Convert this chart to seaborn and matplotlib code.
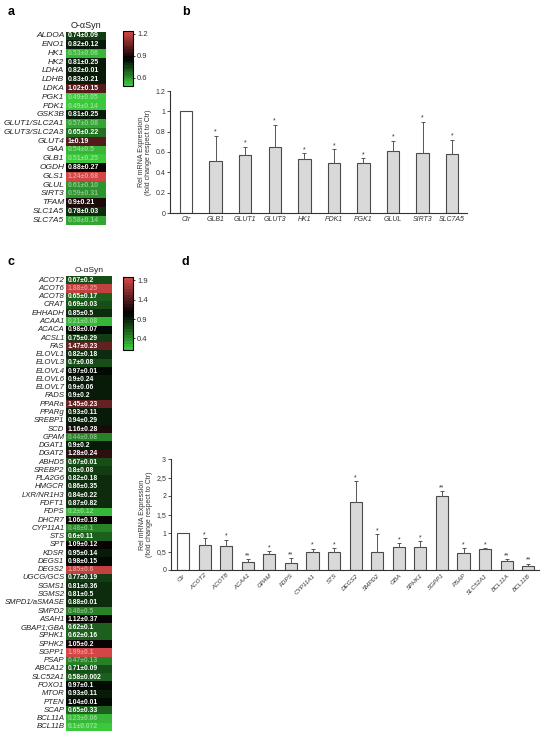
import numpy as np
import pandas as pd
import matplotlib
matplotlib.use("Agg")
import matplotlib.pyplot as plt
import seaborn as sns
from matplotlib.colors import LinearSegmentedColormap, Normalize, to_rgb

sns.set_theme(style="white")
plt.rcParams['font.family'] = ['Liberation Sans', 'DejaVu Sans']

# ---------------- data ----------------
column_label = "O-αSyn"

a_genes = ["ALDOA", "ENO1", "HK1", "HK2", "LDHA", "LDHB", "LDKA", "PGK1", "PDK1",
           "GSK3B", "GLUT1/SLC2A1", "GLUT3/SLC2A3", "GLUT4", "GAA", "GLB1", "OGDH",
           "GLS1", "GLUL", "SIRT3", "TFAM", "SLC1A5", "SLC7A5"]
a_means = [0.74, 0.82, 0.53, 0.81, 0.82, 0.83, 1.02, 0.49, 0.49, 0.81, 0.57, 0.65,
           1.0, 0.54, 0.51, 0.88, 1.24, 0.61, 0.59, 0.9, 0.78, 0.58]
a_sds = ["0.09", "0.12", "0.06", "0.25", "0.01", "0.21", "0.15", "0.05", "0.14",
         "0.25", "0.08", "0.22", "0.19", "0.5", "0.25", "0.27", "0.68", "0.10",
         "0.31", "0.21", "0.03", "0.14"]
a_cbar_ticks = [0.6, 0.9, 1.2]

c_genes = ["ACOT2", "ACOT6", "ACOT8", "CRAT", "EHHADH", "ACAA1", "ACACA", "ACSL1",
           "FAS", "ELOVL1", "ELOVL3", "ELOVL4", "ELOVL6", "ELOVL7", "FADS", "PPARa",
           "PPARg", "SREBP1", "SCD", "GPAM", "DGAT1", "DGAT2", "ABHD5", "SREBP2",
           "PLA2G6", "HMGCR", "LXR/NR1H3", "FDFT1", "FDPS", "DHCR7", "CYP11A1",
           "STS", "SPT", "KDSR", "DEGS1", "DEGS2", "UGCG/GCS", "SGMS1", "SGMS2",
           "SMPD1/aSMASE", "SMPD2", "ASAH1", "GBAP1;GBA", "SPHK1", "SPHK2", "SGPP1",
           "PSAP", "ABCA12", "SLC52A1", "FOXO1", "MTOR", "PTEN", "SCAP", "BCL11A",
           "BCL11B"]
c_means = [0.67, 1.88, 0.65, 0.69, 0.85, 0.21, 0.98, 0.75, 1.47, 0.82, 0.7, 0.97,
           0.9, 0.9, 0.9, 1.45, 0.93, 0.94, 1.16, 0.44, 0.9, 1.28, 0.67, 0.8, 0.82,
           0.86, 0.84, 0.87, 0.2, 1.06, 0.48, 0.6, 1.09, 0.95, 0.98, 1.85, 0.77,
           0.81, 0.81, 0.88, 0.48, 1.12, 0.62, 0.62, 1.05, 1.99, 0.47, 0.71, 0.58,
           0.97, 0.93, 1.04, 0.65, 0.23, 0.1]
c_sds = ["0.2", "0.25", "0.17", "0.03", "0.5", "0.08", "0.07", "0.29", "0.23",
         "0.18", "0.08", "0.01", "0.24", "0.06", "0.2", "0.23", "0.11", "0.29",
         "0.28", "0.08", "0.2", "0.24", "0.01", "0.08", "0.18", "0.35", "0.22",
         "0.82", "0.12", "0.18", "0.1", "0.11", "0.12", "0.14", "0.15", "0.6",
         "0.19", "0.36", "0.5", "0.01", "0.5", "0.37", "0.1", "0.16", "0.2", "0.1",
         "0.13", "0.09", "0.002", "0.1", "0.11", "0.01", "0.33", "0.06", "0.072"]
c_cbar_ticks = [0.4, 0.9, 1.4, 1.9]

b_genes = ["Ctr", "GLB1", "GLUT1", "GLUT3", "HK1", "PDK1", "PGK1", "GLUL", "SIRT3", "SLC7A5"]
b_vals = [1.0, 0.51, 0.57, 0.65, 0.53, 0.49, 0.49, 0.61, 0.59, 0.58]
b_errs = [0.0, 0.25, 0.08, 0.22, 0.06, 0.14, 0.05, 0.10, 0.31, 0.14]
b_stars = ["", "*", "*", "*", "*", "*", "*", "*", "*", "*"]
b_yticks = [0, 0.2, 0.4, 0.6, 0.8, 1.0, 1.2]
b_yticklabels = ["0", "0.2", "0.4", "0.6", "0.8", "1", "1.2"]

d_genes = ["Ctr", "ACOT2", "ACOT8", "ACAA1", "GPAM", "FDPS", "CYP11A1", "STS", "DEGS2",
           "SMPD2", "GBA", "SPHK1", "SGPP1", "PSAP", "SLC52A1", "BCL11A", "BCL11B"]
d_vals = [1.0, 0.67, 0.65, 0.21, 0.44, 0.2, 0.48, 0.48, 1.85, 0.48, 0.62, 0.62, 1.99,
          0.47, 0.58, 0.23, 0.1]
d_errs = [0.0, 0.2, 0.17, 0.08, 0.08, 0.12, 0.1, 0.11, 0.55, 0.5, 0.1, 0.16, 0.15,
          0.13, 0.02, 0.06, 0.07]
d_stars = ["", "*", "*", "**", "*", "**", "*", "*", "*", "*", "*", "*", "**", "*", "*",
           "**", "**"]
d_yticks = [0, 0.5, 1, 1.5, 2, 2.5, 3]
d_yticklabels = ["0", "0,5", "1", "1,5", "2", "2,5", "3"]

ylabel = "Rel mRNA Expression\n(fold change respect to Ctr)"

# ---------------- figure ----------------
W, H = 550, 738
fig = plt.figure(figsize=(W / 100, H / 100), dpi=100)
fig.patch.set_facecolor("white")

cmap = LinearSegmentedColormap.from_list("gkr", ["#3cc83c", "#000000", "#d44646"], N=24)


def px_axes(x0, y0, x1, y1):
    return fig.add_axes([x0 / W, 1 - y1 / H, (x1 - x0) / W, (y1 - y0) / H])


def draw_heat(ax, cax, genes, means, sds, ticks, label_fs, annot_fs):
    df = pd.DataFrame({column_label: means}, index=genes)
    annot = np.array([[f"{m:g}±{s}"] for m, s in zip(means, sds)])
    vmin, vmax = min(means), max(means)
    sns.heatmap(df, ax=ax, cbar_ax=cax, cmap=cmap, vmin=vmin, vmax=vmax,
                annot=annot, fmt="", xticklabels=True, yticklabels=True,
                annot_kws=dict(fontsize=annot_fs, fontweight="bold"),
                cbar_kws=dict(ticks=ticks))
    norm = Normalize(vmin, vmax)
    for t, m in zip(ax.texts, means):
        t.set_ha("left")
        t.set_x(0.04)
        rgb = np.array(to_rgb(cmap(norm(m))))
        if rgb.max() > 0.5:
            t.set_color(tuple(rgb * 0.55 + 0.45))
        else:
            t.set_color("white")
    ax.xaxis.tick_top()
    ax.set_xlabel("")
    ax.set_ylabel("")
    ax.set_xticklabels([column_label], fontsize=label_fs + 0.5, rotation=0, color="#222222")
    ax.set_yticklabels(genes, fontsize=label_fs, rotation=0, fontstyle="italic", color="#222222")
    ax.tick_params(length=0, pad=1.2)
    cb = ax.collections[0].colorbar
    cb.outline.set_edgecolor("black")
    cb.outline.set_linewidth(0.8)
    cax.tick_params(labelsize=5.5, length=3, width=0.7, direction="inout", pad=1.5,
                    colors="#333333")
    cax.set_yticklabels([f"{t:g}" for t in ticks])


def draw_bars(ax, names, vals, errs, stars, yticks, yticklabels, width, ylim, xlim,
              star_off, rot):
    df = pd.DataFrame({"gene": names, "val": vals})
    colors = ["white"] + ["#d9d9d9"] * (len(names) - 1)
    sns.barplot(data=df, x="gene", y="val", hue="gene", palette=colors, legend=False,
                width=width, edgecolor="#4a4a4a", linewidth=0.8, errorbar=None, ax=ax)
    x = np.arange(len(names))
    ax.errorbar(x[1:], vals[1:], yerr=[np.zeros(len(vals) - 1), errs[1:]], fmt="none",
                ecolor="#555555", elinewidth=0.7, capsize=1.4, capthick=0.7)
    for i, (v, e, s) in enumerate(zip(vals, errs, stars)):
        if s:
            ax.text(i, v + e + star_off, s, ha="center", va="center", fontsize=5,
                    color="#333333")
    ax.set_ylim(*ylim)
    ax.set_xlim(*xlim)
    ax.set_yticks(yticks)
    ax.set_yticklabels(yticklabels, fontsize=5, color="#333333")
    ax.set_xlabel("")
    ax.set_ylabel(ylabel, fontsize=5, linespacing=1.0, color="#333333", labelpad=2)
    for sp in ["top", "right"]:
        ax.spines[sp].set_visible(False)
    for sp in ["left", "bottom"]:
        ax.spines[sp].set_color("#333333")
        ax.spines[sp].set_linewidth(0.8)
    ax.tick_params(axis="y", left=True, length=2, width=0.6, pad=1.5, colors="#333333")
    ax.tick_params(axis="x", bottom=False, length=0, pad=2)
    ax.set_xticks(x)
    if rot:
        ax.set_xticklabels(names, fontsize=4.5, fontstyle="italic", rotation=45,
                           ha="right", rotation_mode="anchor", color="#333333")
    else:
        ax.set_xticklabels(names, fontsize=5, fontstyle="italic", color="#333333")
    ax.set_facecolor("white")


# panel a
ax_a = px_axes(66, 31.5, 106, 224.5)
cax_a = px_axes(123, 31, 133, 86)
draw_heat(ax_a, cax_a, a_genes, a_means, a_sds, a_cbar_ticks, 6, 5)

# panel c
ax_c = px_axes(66, 276, 112, 731)
cax_c = px_axes(123, 277, 133, 350)
draw_heat(ax_c, cax_c, c_genes, c_means, c_sds, c_cbar_ticks, 5.6, 4.9)

# panel b
ax_b = px_axes(170, 91, 467, 213)
draw_bars(ax_b, b_genes, b_vals, b_errs, b_stars, b_yticks, b_yticklabels, 0.42,
          (0, 1.2), (-0.54, 9.5), 0.035, False)

# panel d
ax_d = px_axes(171, 459, 539, 570)
draw_bars(ax_d, d_genes, d_vals, d_errs, d_stars, d_yticks, d_yticklabels, 0.56,
          (0, 3), (-0.56, 16.5), 0.09, True)

for lbl, (x, y) in zip("abcd", [(8, 12), (182, 12), (8, 262), (182, 262)]):
    fig.text(x / W, 1 - y / H, lbl, fontsize=9, fontweight="bold", va="center",
             ha="left", color="black")

fig.savefig("out.png", dpi=100, facecolor="white")
